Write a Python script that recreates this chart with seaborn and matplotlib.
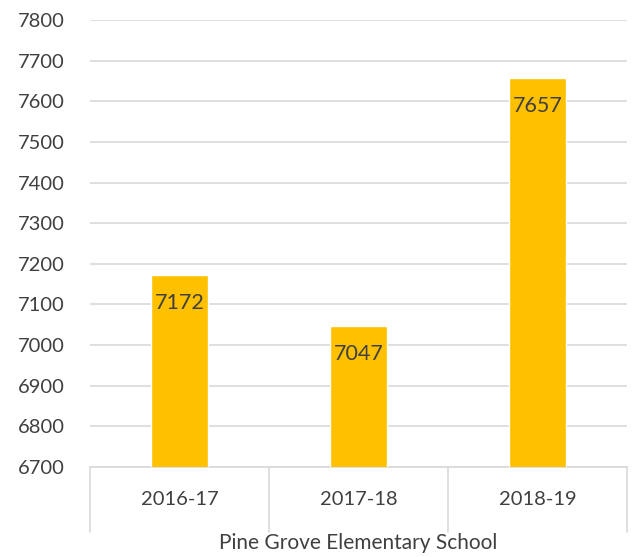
import numpy as np
import pandas as pd
import seaborn as sns
from matplotlib import pyplot as plt

years = ["2016-17", "2017-18", "2018-19"]
counts = [7172, 7047, 7657]
school = "Pine Grove Elementary School"

df = pd.DataFrame({"year": years, "count": counts})

sns.set_style("white")
plt.rcParams["font.family"] = ["Lato", "DejaVu Sans"]

fig = plt.figure(figsize=(6.41, 5.57), dpi=100)
ax = fig.add_axes([0.1404, 0.1616, 0.8376, 0.8025])

sns.barplot(data=df, x="year", y="count", color="#FFC000", width=0.315,
            saturation=1, ax=ax, zorder=3)

ax.set_ylim(6700, 7800)
ax.set_yticks(np.arange(6700, 7801, 100))
ax.set_xlim(-0.5, len(years) - 0.5)
ax.yaxis.grid(True, color="#d9d9d9", linewidth=1.2, zorder=0)
ax.set_axisbelow(True)
for s in ["top", "right", "left"]:
    ax.spines[s].set_visible(False)
ax.spines["bottom"].set_color("#d9d9d9")
ax.spines["bottom"].set_linewidth(1.2)

ax.tick_params(axis="y", length=0, pad=18, labelsize=14.5, labelcolor="#404040")
ax.tick_params(axis="x", length=0, pad=17, labelsize=14.5, labelcolor="#404040")

# category separators below axis
trans = ax.get_xaxis_transform()
for xv in np.arange(-0.5, len(years), 1.0):
    ax.plot([xv, xv], [0, -0.146], transform=trans, color="#d9d9d9",
            linewidth=1.2, clip_on=False)

for i, v in enumerate(counts):
    ax.text(i, v - 28 * 1100 / 447, str(v), ha="center", va="center",
            fontsize=15.5, color="#404040", zorder=4)

ax.set_ylabel("")
ax.set_xlabel(school, fontsize=15, color="#404040", labelpad=18)

fig.savefig("out.png", dpi=100)
